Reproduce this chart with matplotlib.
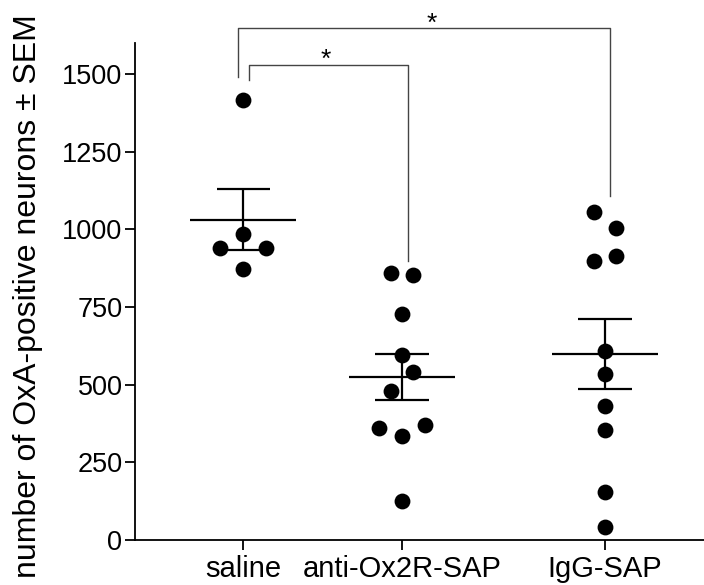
import numpy as np
import matplotlib
matplotlib.use("Agg")
import matplotlib.pyplot as plt

plt.rcParams['font.family'] = ['Liberation Sans', 'DejaVu Sans']

# data
groups = ['saline', 'anti-Ox2R-SAP', 'IgG-SAP']
saline = [1417, 986, 941, 941, 871]
anti_ox2r = [858, 853, 728, 594, 542, 481, 359, 336, 371, 127]
igg = [1056, 1003, 914, 898, 607, 534, 430, 355, 156, 43]
values = [saline, anti_ox2r, igg]

# horizontal spread of dots (in dot half-widths) and group positions
spread = [[0, 0, -2, 2, 0],
          [-1, 1, 0, 0, 1, -1, -2, 0, 2, 0],
          [-1, 1, 1, -1, 0, 0, 0, 0, 0, 0]]
xpos = [0, 1, 2.277]
step = 0.072

fig = plt.figure(figsize=(7.04, 5.85), dpi=100)
ax = fig.add_axes([135/704, 45/585, 569/704, 497/585])

for i, vals in enumerate(values):
    vals = np.array(vals, dtype=float)
    m = vals.mean()
    sem = vals.std(ddof=1) / np.sqrt(len(vals))
    x = xpos[i]
    ax.hlines(m, x - 0.335, x + 0.335, color='black', lw=1.6, zorder=2)
    ax.vlines(x, m - sem, m + sem, color='black', lw=1.6, zorder=2)
    ax.hlines([m - sem, m + sem], x - 0.167, x + 0.167, color='black', lw=1.6, zorder=2)
    xs = x + np.array(spread[i]) * step
    ax.scatter(xs, vals, s=130, color='black', zorder=3, linewidths=0)

# significance brackets
br = dict(color='#444444', lw=1.0, clip_on=False)
ax.plot([-0.031, -0.031, 2.308, 2.308], [1490, 1647, 1647, 1106], **br)
ax.plot([0.036, 0.036, 1.038, 1.038], [1481, 1530, 1530, 897], **br)
ax.text(1.19, 1640, '*', ha='center', va='baseline', fontsize=19)
ax.text(0.52, 1523, '*', ha='center', va='baseline', fontsize=19)

ax.set_xlim(-0.68, 2.90)
ax.set_ylim(0, 1600)
ax.set_yticks([0, 250, 500, 750, 1000, 1250, 1500])
ax.set_xticks(xpos)
ax.set_xticklabels(groups)
ax.spines['top'].set_visible(False)
ax.spines['right'].set_visible(False)
for s in ['left', 'bottom']:
    ax.spines[s].set_linewidth(1.3)
ax.tick_params(direction='out', length=7, width=1.3, pad=2)
ax.tick_params(axis='y', labelsize=19.5)
ax.tick_params(axis='x', labelsize=21, pad=4)
ax.set_ylabel('number of OxA-positive neurons ± SEM', fontsize=23)
ax.yaxis.set_label_coords(-0.1617, 0.491)

fig.savefig('out.png', dpi=100)
